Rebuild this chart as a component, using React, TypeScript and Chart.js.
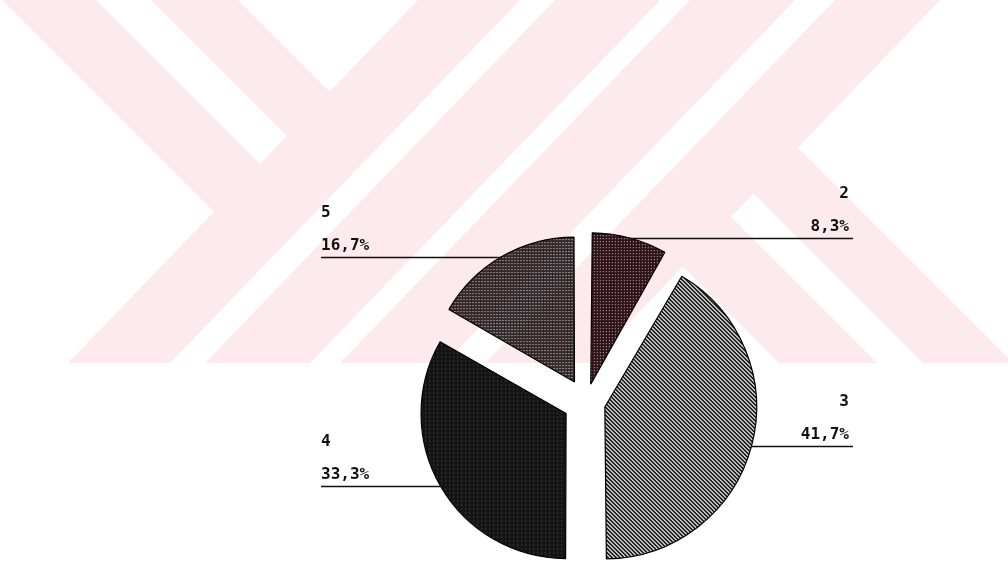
import React, { useEffect, useRef } from 'react';
import { Chart, registerables } from 'chart.js';

Chart.register(...registerables);

// ---- data ----
const categories = ['2', '3', '4', '5'];
const percentages = [8.3, 41.7, 33.3, 16.7];

// ---- style constants ----
const FONT = 'bold 16px "DejaVu Sans Mono", "Liberation Mono", monospace';
const LEFT_X = 321;
const RIGHT_X = 853;
const EXPLODE = [18.5, 19.5, 23, 23]; // explode distance per slice, px
const RADIUS = 142;

// watermark decoration bands (light pink stripes of the scanned page)
const WM_BOTTOM = 363;
const SLANT = 350 / 363; // horizontal drift of the "/" stripes per px of height
const slashBands = [[418, 520], [555, 660], [690, 795], [835, 940]];
const backBands = [[2, 96], [151, 238]];
const backBandEndX = 469; // middle of first "/" stripe at top
const legBands = [[560, 650], [416, 514]];
const legStartX = 887; // middle of fourth "/" stripe at top

function makePattern(ctx: CanvasRenderingContext2D, size: number, bg: string, fg: string, pix: number[][]) {
  const c = document.createElement('canvas');
  c.width = size;
  c.height = size;
  const g = c.getContext('2d')!;
  g.fillStyle = bg;
  g.fillRect(0, 0, size, size);
  g.fillStyle = fg;
  pix.forEach(([x, y]) => g.fillRect(x, y, 1, 1));
  return ctx.createPattern(c, 'repeat')!;
}

function fmtPct(v: number) {
  return v.toFixed(1).replace('.', ',') + '%';
}

const bgPlugin = {
  id: 'bgWhite',
  beforeDraw(chart: any) {
    const { ctx, width, height } = chart;
    ctx.save();
    ctx.fillStyle = '#ffffff';
    ctx.fillRect(0, 0, width, height);
    ctx.restore();
  },
};

const labelPlugin = {
  id: 'leaderLabels',
  afterDatasetsDraw(chart: any) {
    const { ctx } = chart;
    const meta = chart.getDatasetMeta(0);
    meta.data.forEach((arc: any, i: number) => {
      const { x, y, startAngle, endAngle, outerRadius } = arc.getProps(
        ['x', 'y', 'startAngle', 'endAngle', 'outerRadius'],
        true
      );
      const off = (arc.options.offset || 0) / 4;
      const circ = endAngle - startAngle;
      const fix = 1 - Math.sin(Math.min(Math.PI, circ));
      const dist = off + outerRadius + off * fix;
      const mid = (startAngle + endAngle) / 2;
      const px = x + Math.cos(mid) * dist;
      const py = Math.round(y + Math.sin(mid) * dist) + 0.5;
      const left = Math.cos(mid) < 0;
      ctx.save();
      ctx.strokeStyle = '#111';
      ctx.lineWidth = 1.5;
      ctx.beginPath();
      if (left) {
        ctx.moveTo(LEFT_X, py);
        ctx.lineTo(px, py);
      } else {
        ctx.moveTo(px, py);
        ctx.lineTo(RIGHT_X, py);
      }
      ctx.stroke();
      ctx.fillStyle = '#111';
      ctx.font = FONT;
      ctx.textBaseline = 'alphabetic';
      ctx.textAlign = left ? 'left' : 'right';
      const tx = left ? LEFT_X : RIGHT_X - 4;
      ctx.fillText(String(chart.data.labels[i]), tx, py - 41);
      ctx.fillText(fmtPct(chart.data.datasets[0].data[i]), tx, py - 8);
      ctx.restore();
    });
  },
};

const watermarkPlugin = {
  id: 'watermark',
  afterDraw(chart: any) {
    const { ctx, width } = chart;
    ctx.save();
    ctx.beginPath();
    ctx.rect(0, 0, width, WM_BOTTOM);
    ctx.clip();
    ctx.globalCompositeOperation = 'multiply';
    ctx.fillStyle = 'rgb(252,234,238)';
    ctx.beginPath();
    const H = WM_BOTTOM;
    const dx = SLANT * H;
    slashBands.forEach(([a, b]) => {
      ctx.moveTo(a, 0);
      ctx.lineTo(b, 0);
      ctx.lineTo(b - dx, H);
      ctx.lineTo(a - dx, H);
      ctx.closePath();
    });
    // "\" stripe meeting a "/" line x = e - SLANT*y  ->  y = (e - d) / (1 + SLANT)
    const meet = (d: number, e: number) => {
      const yy = (e - d) / (1 + SLANT);
      return [d + yy, yy];
    };
    backBands.forEach(([a, b]) => {
      const pb = meet(b, backBandEndX);
      const pa = meet(a, backBandEndX);
      ctx.moveTo(a, 0);
      ctx.lineTo(b, 0);
      ctx.lineTo(pb[0], pb[1]);
      ctx.lineTo(pa[0], pa[1]);
      ctx.closePath();
    });
    legBands.forEach(([a, b]) => {
      const far = 700;
      const pb = meet(b, legStartX);
      const pa = meet(a, legStartX);
      ctx.moveTo(pb[0], pb[1]);
      ctx.lineTo(b + far, far);
      ctx.lineTo(a + far, far);
      ctx.lineTo(pa[0], pa[1]);
      ctx.closePath();
    });
    ctx.fill('nonzero');
    ctx.restore();
  },
};

export default function App() {
  const ref = useRef<HTMLCanvasElement>(null);
  useEffect(() => {
    const canvas = ref.current!;
    const ctx = canvas.getContext('2d')!;
    const stripes: number[][] = [];
    for (let yy = 0; yy < 4; yy++)
      for (let xx = 0; xx < 4; xx++) if ((xx - yy + 8) % 4 >= 2) stripes.push([xx, yy]);
    const patterns = [
      makePattern(ctx, 3, '#2e1519', '#d8c0c4', [[1, 1]]),
      makePattern(ctx, 4, '#141414', '#cccccc', stripes),
      makePattern(ctx, 4, '#141414', '#5a5a5a', [[1, 1]]),
      makePattern(ctx, 3, '#322b2d', '#f2eaec', [[1, 1]]),
    ];
    const offsets = EXPLODE.map((d) => d * 4);
    const chart = new Chart(ctx, {
      type: 'pie',
      data: {
        labels: categories,
        datasets: [
          {
            data: percentages,
            backgroundColor: patterns as any,
            borderColor: '#000',
            borderWidth: 1.2,
            offset: offsets,
            hoverOffset: 0,
          } as any,
        ],
      },
      options: {
        animation: false,
        responsive: true,
        maintainAspectRatio: false,
        events: [],
        radius: RADIUS,
        layout: { padding: { left: 164, top: 240, right: 0, bottom: 0 } },
        plugins: {
          legend: { display: false },
          tooltip: { enabled: false },
        },
      } as any,
      plugins: [bgPlugin, labelPlugin, watermarkPlugin],
    });
    return () => chart.destroy();
  }, []);
  return (
    <div style={{ position: 'absolute', left: 0, top: 0, width: 1008, height: 564 }}>
      <canvas ref={ref} />
    </div>
  );
}
